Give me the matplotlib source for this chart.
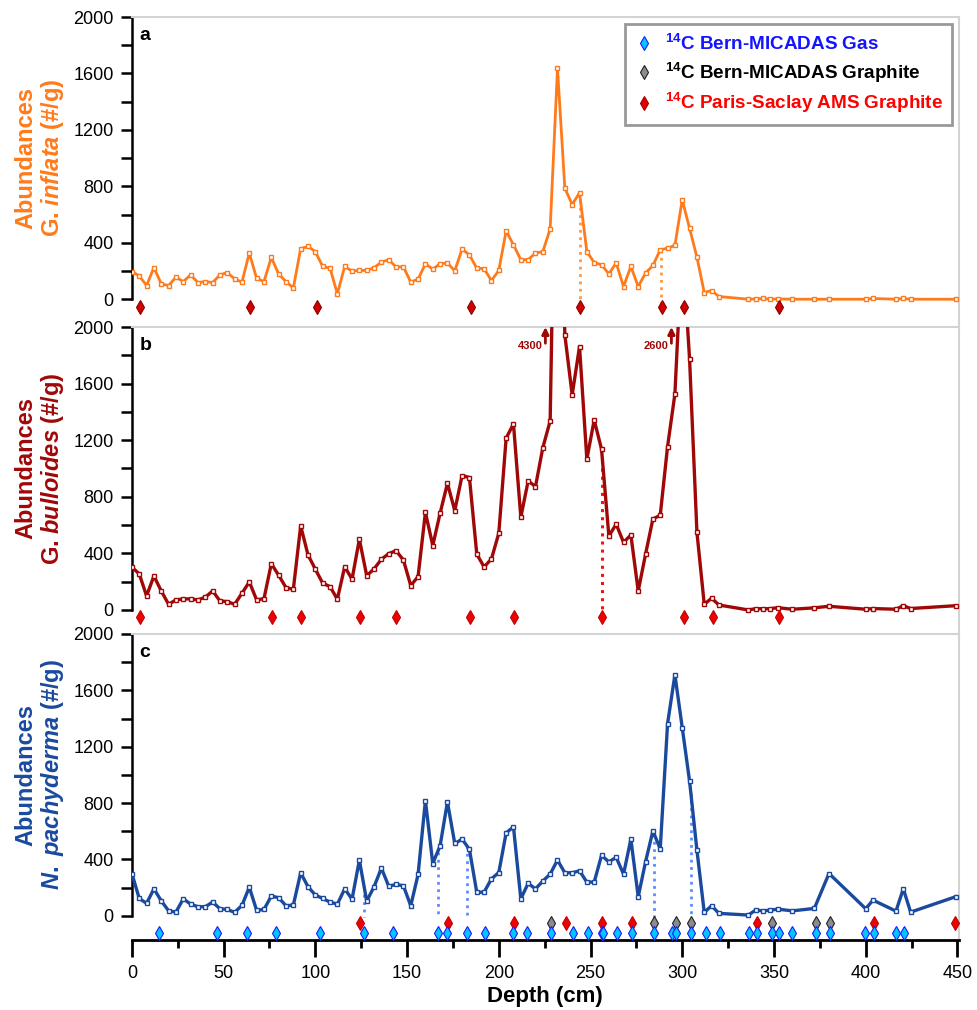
import numpy as np
import matplotlib.pyplot as plt
from matplotlib.lines import Line2D
from matplotlib.ticker import MultipleLocator

plt.rcParams['font.family'] = ['Liberation Sans', 'DejaVu Sans']
plt.rcParams['mathtext.fontset'] = 'custom'
plt.rcParams['mathtext.rm'] = 'Liberation Sans:bold'
plt.rcParams['mathtext.it'] = 'Liberation Sans:bold:italic'
plt.rcParams['mathtext.bf'] = 'Liberation Sans:bold'

# depth of samples (cm)
depth = [0, 4, 8, 12, 16, 20, 24, 28, 32, 36, 40, 44, 48, 52, 56, 60, 64, 68, 72, 76,
         80, 84, 88, 92, 96, 100, 104, 108, 112, 116, 120, 124, 128, 132, 136, 140, 144, 148, 152, 156,
         160, 164, 168, 172, 176, 180, 184, 188, 192, 196, 200, 204, 208, 212, 216, 220, 224, 228, 232, 236,
         240, 244, 248, 252, 256, 260, 264, 268, 272, 276, 280, 284, 288, 292, 296, 300, 304, 308, 312, 316,
         320, 336, 340, 344, 348, 352, 360, 372, 380, 400, 404, 416.5, 420.5, 424.5, 449]

# abundances (#/g)
inflata = [196, 165, 97, 224, 109, 97, 156, 125, 172, 118, 125, 118, 172, 189, 144, 121, 327, 147, 125, 296,
           178, 125, 80, 358, 374, 337, 232, 220, 38, 232, 199, 204, 204, 223, 263, 280, 228, 230, 121, 142,
           251, 213, 251, 256, 201, 356, 313, 220, 216, 132, 204, 484, 385, 280, 280, 327, 337, 498, 1637, 787,
           671, 754, 337, 260, 244, 180, 256, 90, 232, 90, 185, 239, 350, 362, 381, 705, 502, 298, 47, 61,
           19, 0, 2, 5, 0, 2, 0, 0, 0, 0, 5, 0, 5, 0, 0]
bulloides = [302, 255, 99, 240, 134, 40, 71, 78, 78, 71, 90, 134, 64, 59, 40, 118, 198, 71, 80, 327,
             245, 158, 146, 594, 389, 288, 189, 165, 76, 306, 217, 500, 242, 290, 358, 398, 419, 353, 172, 236,
             690, 455, 683, 895, 702, 950, 936, 394, 304, 361, 542, 1214, 1315, 655, 912, 872, 1147, 1336, 4300, 1944,
             1520, 1862, 1065, 1343, 1136, 523, 606, 478, 530, 134, 394, 643, 669, 1155, 1527, 2600, 1772, 549, 40, 83,
             35, 0, 9, 9, 9, 16, 5, 15, 26, 5, 10, 5, 30, 10, 30]
pachyderma = [300, 123, 88, 191, 106, 35, 26, 120, 83, 64, 64, 97, 50, 45, 24, 74, 203, 38, 45, 140,
              128, 71, 76, 305, 206, 147, 123, 97, 83, 191, 118, 395, 104, 206, 338, 210, 222, 213, 71, 293,
              818, 371, 496, 808, 513, 544, 471, 166, 168, 262, 307, 588, 631, 120, 230, 191, 246, 296, 395, 305,
              305, 319, 239, 239, 428, 383, 414, 296, 544, 135, 383, 602, 475, 1363, 1711, 1335, 955, 466, 24, 71,
              17, 5, 40, 35, 40, 47, 35, 52, 300, 50, 111, 33, 191, 26, 135]

# 14C dated levels (cm)
paris_a = [4.4, 64.3, 100.7, 184.6, 244.5, 288.8, 300.8, 352.7]
paris_b = [4.4, 76.3, 92.3, 124.3, 144.2, 184.5, 208.5, 256.5, 300.8, 317, 352.7]
paris_c = [124.4, 172.5, 208.5, 236.6, 256.5, 272.6, 340.5, 404.6, 448.5]
graphite_c = [228.5, 284.8, 296.8, 304.7, 348.7, 372.8, 380.7]
gas_c = [14.6, 46.5, 62.5, 78.5, 102.6, 126.6, 142.4, 166.6, 171.5, 182.6, 192.7, 207.6, 215.5, 228.5,
         240.7, 248.6, 256.1, 256.8, 264.6, 272.6, 284.6, 294.4, 296.8, 304.7, 312.8, 320.8, 336.4, 340.7,
         348.7, 352.7, 359.8, 372.7, 380.7, 399.6, 404.7, 416.7, 420.7]

# tie points (dotted lines)
tie_a = [244.5, 288.4]
tie_b = [256.5]
tie_c = [126.6, 166.6, 182.6, 284.6, 304.7]

# off-scale peaks in b
peak_labels = ['4300', '2600']
peak_depth = [225.4, 294.1]

legend_labels = [r'$^{\mathbf{14}}$C Bern-MICADAS Gas',
                 r'$^{\mathbf{14}}$C Bern-MICADAS Graphite',
                 r'$^{\mathbf{14}}$C Paris-Saclay AMS Graphite']

orange = '#FF7A1A'
darkred = '#A00808'
blue = '#1A4A9E'

W, H = 978, 1010
fig = plt.figure(figsize=(W / 100, H / 100), dpi=100)
left = 131.9 / W
width = (958.7 - 131.9) / W
ax_a = fig.add_axes([left, 1 - 327 / H, width, 310 / H])
ax_b = fig.add_axes([left, 1 - 634 / H, width, 307 / H], sharex=ax_a)
ax_c = fig.add_axes([left, 1 - 940 / H, width, 306 / H], sharex=ax_a)

ylims = [-197, -170, -172]
colors = [orange, darkred, blue]
series = [inflata, bulloides, pachyderma]
ylabels = ['Abundances\nG. $\\mathit{inflata}$ (#/g)',
           'Abundances\nG. $\\mathit{bulloides}$ (#/g)',
           'Abundances\n$\\mathit{N.}$ $\\mathit{pachyderma}$ (#/g)']
letters = ['a', 'b', 'c']

for ax, yl, col, ser, lab, let in zip([ax_a, ax_b, ax_c], ylims, colors, series, ylabels, letters):
    ax.set_ylim(yl, 2000)
    ax.set_xlim(0, 450.7)
    lw = 2.0 if ax is ax_a else 2.4
    ax.plot(depth, ser, color=col, lw=lw, marker='s', ms=3.2, mfc='white', mec=col, mew=1, zorder=3)
    ax.spines['left'].set_bounds(0, 2000)
    ax.spines['left'].set_linewidth(1.8)
    for s in ['top', 'right']:
        ax.spines[s].set_color('#D3D3D3')
        ax.spines[s].set_linewidth(1.5)
    ax.set_yticks(np.arange(0, 2001, 400))
    ax.yaxis.set_minor_locator(MultipleLocator(200))
    ax.tick_params(axis='y', which='both', direction='out', length=8, width=1.8, labelsize=13, pad=5)
    ax.set_ylabel(lab, color=col, fontsize=17, fontweight='bold', ha='center', va='center', linespacing=1.05)
    ax.yaxis.set_label_coords(-0.111, (1000 - yl) / (2000 - yl))
    ax.text(0.009, 0.94, let, transform=ax.transAxes, fontsize=14, fontweight='bold', va='center')

for ax in [ax_a, ax_b]:
    ax.spines['bottom'].set_visible(False)
    ax.tick_params(axis='x', which='both', bottom=False, labelbottom=False)

ax_c.spines['bottom'].set_linewidth(2)
ax_c.set_xticks(np.arange(0, 451, 50))
ax_c.xaxis.set_minor_locator(MultipleLocator(25))
ax_c.tick_params(axis='x', which='major', direction='out', length=12, width=2, labelsize=13, pad=6)
ax_c.tick_params(axis='x', which='minor', direction='out', length=6, width=2)
ax_c.set_xlabel('Depth (cm)', fontsize=16, fontweight='bold', labelpad=3)

# tie lines
for d in tie_a:
    ax_a.plot([d, d], [np.interp(d, depth, inflata), -25], ls=':', color='#FF9A3C', lw=2, zorder=2)
for d in tie_b:
    ax_b.plot([d, d], [np.interp(d, depth, bulloides), -25], ls=':', color='#FF1010', lw=2.2, zorder=2)
for d in tie_c:
    ax_c.plot([d, d], [np.interp(d, depth, pachyderma), -10], ls=':', color='#5C8CFF', lw=2, zorder=2)

# dated levels
dm = dict(marker='d', ls='none', ms=6.8, mew=0.8, clip_on=False, zorder=4)
ax_a.plot(paris_a, [-57] * len(paris_a), mfc='#D40000', mec='#8C0000', **dm)
ax_b.plot(paris_b, [-47] * len(paris_b), mfc='#F00000', mec='#C00000', **dm)
ax_c.plot(paris_c, [-50] * len(paris_c), mfc='#F00000', mec='#C00000', **dm)
ax_c.plot(graphite_c, [-50] * len(graphite_c), mfc='#8C8C8C', mec='#202020', **dm)
ax_c.plot(gas_c, [-125] * len(gas_c), mfc='#00C8FF', mec='#1A1AFF', **dm)

# off-scale peaks
for lab, d in zip(peak_labels, peak_depth):
    ax_b.annotate('', xy=(d, 2000), xytext=(d, 1885),
                  arrowprops=dict(arrowstyle='-|>', color=darkred, lw=2, mutation_scale=10, shrinkA=0, shrinkB=0))
    ax_b.text(d - 1.5, 1865, lab, color=darkred, fontsize=8, fontweight='bold', ha='right', va='center')

# legend
handles = [Line2D([], [], marker='d', ls='none', ms=7, mfc='#00C8FF', mec='#1A1AFF', mew=0.8),
           Line2D([], [], marker='d', ls='none', ms=7, mfc='#8C8C8C', mec='#202020', mew=0.8),
           Line2D([], [], marker='d', ls='none', ms=7, mfc='#E00000', mec='#A00000', mew=0.8)]
leg = ax_a.legend(handles, legend_labels, loc='upper right', bbox_to_anchor=(0.9923, 0.977),
                  borderaxespad=0, prop=dict(weight='bold', size=13.6), fancybox=False,
                  edgecolor='#999999', framealpha=1, handlelength=1.0, handletextpad=0.6,
                  labelspacing=0.36, borderpad=0.5)
leg.get_frame().set_linewidth(2)
for t, c in zip(leg.get_texts(), ['#1414FF', 'black', '#FF0000']):
    t.set_color(c)

fig.savefig('out.png', dpi=100)
